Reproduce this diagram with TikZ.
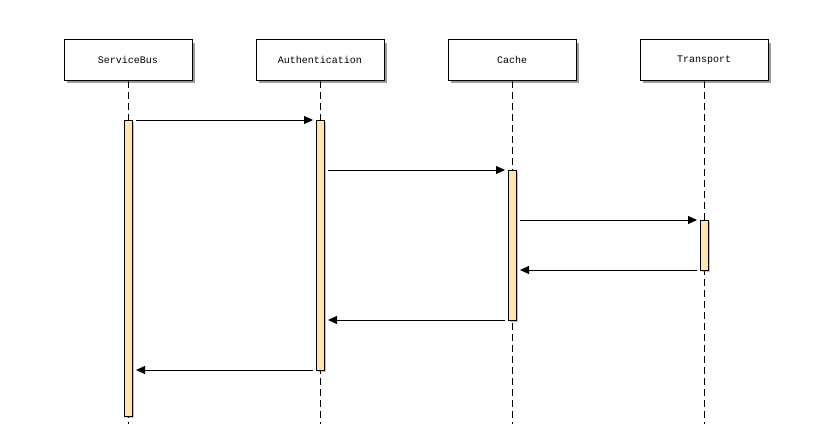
\documentclass[tikz,border=0pt]{standalone}
\usepackage{fontspec}
\setmonofont{Liberation Mono}
\usetikzlibrary{arrows.meta,shadows}
\begin{document}
\begin{tikzpicture}[x=1pt,y=-1pt,
  participant/.style={draw=black,line width=1pt,fill=white,minimum width=128pt,minimum height=40pt,inner sep=0pt,
    font=\ttfamily\fontsize{10}{12}\selectfont,
    drop shadow={shadow xshift=3pt,shadow yshift=-3pt,opacity=0.55,fill=black!70}},
  lifeline/.style={draw=black,line width=1pt,dash pattern=on 7pt off 4pt},
  actbar/.style={draw=black,line width=0.8pt,fill={rgb,255:red,255;green,228;blue,181},
    drop shadow={shadow xshift=2pt,shadow yshift=-2pt,opacity=0.4,fill=black!60}},
  msg/.style={draw=black,line width=1pt,-{Triangle[length=9pt,width=8pt]}}]
\useasboundingbox (0,0) rectangle (832,444);
% participants
\node[participant] (sb) at (128,60) {ServiceBus};
\node[participant] (au) at (320,60) {Authentication};
\node[participant] (ca) at (512,60) {Cache};
\node[participant] (tr) at (704,60) {Transport};
% lifelines
\coordinate (sbend) at (128,424);
\coordinate (auend) at (320,424);
\coordinate (caend) at (512,424);
\coordinate (trend) at (704,424);
\draw[lifeline] (sb.south) -- (sbend);
\draw[lifeline] (au.south) -- (auend);
\draw[lifeline] (ca.south) -- (caend);
\draw[lifeline] (tr.south) -- (trend);
% activation bars
\path[actbar] (124,120) rectangle (132,416);
\path[actbar] (316,120) rectangle (324,370);
\path[actbar] (508,170) rectangle (516,320);
\path[actbar] (700,220) rectangle (708,270);
% message end points
\coordinate (m1a) at (136,120); \coordinate (m1b) at (313,120);
\coordinate (m2a) at (328,170); \coordinate (m2b) at (505,170);
\coordinate (m3a) at (520,220); \coordinate (m3b) at (697,220);
\coordinate (m4a) at (697,270); \coordinate (m4b) at (520,270);
\coordinate (m5a) at (505,320); \coordinate (m5b) at (328,320);
\coordinate (m6a) at (313,370); \coordinate (m6b) at (136,370);
\draw[msg] (m1a) -- (m1b);
\draw[msg] (m2a) -- (m2b);
\draw[msg] (m3a) -- (m3b);
\draw[msg] (m4a) -- (m4b);
\draw[msg] (m5a) -- (m5b);
\draw[msg] (m6a) -- (m6b);
\end{tikzpicture}
\end{document}
